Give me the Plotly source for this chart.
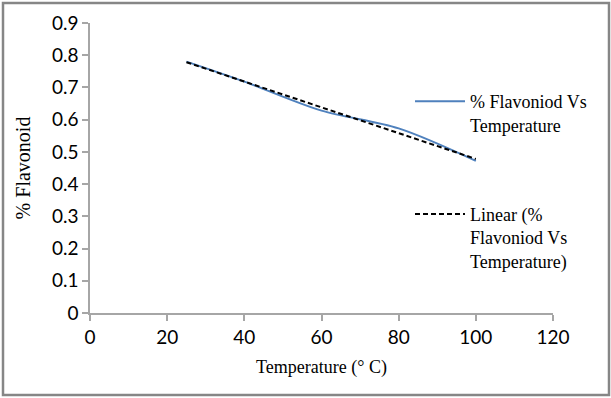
import numpy as np
import plotly.graph_objects as go

# Flavonoid content measured at each extraction temperature
temperature = [25, 40, 60, 80, 100]
flavonoid = [0.780, 0.718, 0.628, 0.573, 0.472]

# Least-squares linear trend over the measured range
slope, intercept = np.polyfit(temperature, flavonoid, 1)
trend_x = [min(temperature), max(temperature)]
trend_y = [slope * t + intercept for t in trend_x]

x_ticks = [0, 20, 40, 60, 80, 100, 120]
y_ticks = [0, 0.1, 0.2, 0.3, 0.4, 0.5, 0.6, 0.7, 0.8, 0.9]

serif = "'Liberation Serif', 'Times New Roman', Times, serif"
sans = "Lato"

fig = go.Figure()
fig.add_trace(go.Scatter(
    x=temperature, y=flavonoid, mode="lines",
    line=dict(color="#4F81BD", width=2, shape="spline", smoothing=0.9),
    name="% Flavoniod Vs<br>Temperature", legendgroup="data",
))
fig.add_trace(go.Scatter(
    x=trend_x, y=trend_y, mode="lines",
    line=dict(color="#000000", width=2, dash="5px,3px"),
    name="Linear (%<br>Flavoniod Vs<br>Temperature)", legendgroup="trend",
))

L, R, T, B = 90, 58, 23, 85
W, H = 611, 398
pw, ph = W - L - R, H - T - B

def px_x(p):
    return (p - L) / pw

def px_y(p):
    return (H - B - p) / ph

fig.update_layout(
    width=W, height=H,
    margin=dict(l=L, r=R, t=T, b=B),
    paper_bgcolor="white", plot_bgcolor="white",
    showlegend=True,
    legend=dict(
        x=px_x(410), y=px_y(83), xanchor="left", yanchor="top",
        font=dict(family=serif, size=18, color="#000000"),
        tracegroupgap=63, itemwidth=50, valign="top", bgcolor="rgba(0,0,0,0)",
    ),
    xaxis=dict(
        range=[0, 120], tickvals=x_ticks, ticktext=[str(v) for v in x_ticks],
        showline=True, linecolor="#A6A6A6", linewidth=1.5,
        ticks="outside", ticklen=6, tickcolor="#A6A6A6", tickwidth=1.5,
        showgrid=False, zeroline=False,
        tickfont=dict(family=sans, size=19, color="#000000"),
        title=dict(text="Temperature (\u00b0 C)", font=dict(family=serif, size=18, color="#000000"), standoff=14),
    ),
    yaxis=dict(
        range=[0, 0.9], tickvals=y_ticks, ticktext=[("%g" % v) for v in y_ticks],
        showline=True, linecolor="#A6A6A6", linewidth=1.5,
        ticks="outside", ticklen=6, tickcolor="#A6A6A6", tickwidth=1.5,
        showgrid=False, zeroline=False,
        tickfont=dict(family=sans, size=19, color="#000000"),
        title=dict(text="% Flavonoid", font=dict(family=serif, size=20, color="#000000"), standoff=16),
    ),
    shapes=[dict(
        type="rect", xref="paper", yref="paper",
        x0=px_x(3), x1=px_x(609), y0=px_y(395), y1=px_y(3),
        line=dict(color="#868686", width=2.5), fillcolor="rgba(0,0,0,0)", layer="below",
    )],
)

fig.write_html("out.html")
